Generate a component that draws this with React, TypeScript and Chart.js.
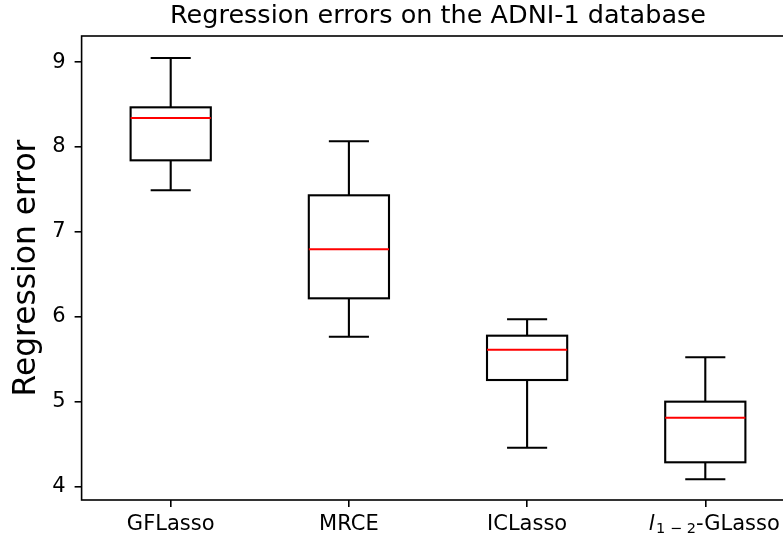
import React, { useEffect, useRef } from 'react';
import { Chart, registerables } from 'chart.js';

Chart.register(...registerables);

// ---- data ----
const categories = ['GFLasso', 'MRCE', 'ICLasso', 'l1-2-GLasso'];
const whiskerLow = [7.49, 5.766, 4.459, 4.087];
const q1 = [7.843, 6.218, 5.256, 4.287];
const median = [8.341, 6.795, 5.613, 4.812];
const q3 = [8.467, 7.431, 5.778, 5.001];
const whiskerHigh = [9.048, 8.067, 5.971, 5.524];
const yTicks = [4, 5, 6, 7, 8, 9];
const yMin = 3.843;
const yMax = 9.307;

const FONT = 'DejaVu Sans';

const boxPlugin = {
  id: 'boxPlugin',
  afterDatasetsDraw(chart: any) {
    const ctx = chart.ctx;
    const ys = chart.scales.y;
    const meta = chart.getDatasetMeta(0);
    ctx.save();
    meta.data.forEach((bar: any, i: number) => {
      const x = bar.x;
      const hw = bar.width / 2;
      const yq1 = ys.getPixelForValue(q1[i]);
      const yq3 = ys.getPixelForValue(q3[i]);
      const ylo = ys.getPixelForValue(whiskerLow[i]);
      const yhi = ys.getPixelForValue(whiskerHigh[i]);
      const ymed = ys.getPixelForValue(median[i]);
      ctx.lineWidth = 2.1;
      ctx.strokeStyle = '#000';
      ctx.lineCap = 'butt';
      ctx.strokeRect(x - hw, yq3, 2 * hw, yq1 - yq3);
      ctx.beginPath();
      ctx.moveTo(x, yq3);
      ctx.lineTo(x, yhi);
      ctx.moveTo(x, yq1);
      ctx.lineTo(x, ylo);
      ctx.moveTo(x - hw / 2, yhi);
      ctx.lineTo(x + hw / 2, yhi);
      ctx.moveTo(x - hw / 2, ylo);
      ctx.lineTo(x + hw / 2, ylo);
      ctx.stroke();
      ctx.strokeStyle = '#ff0000';
      ctx.beginPath();
      ctx.moveTo(x - hw, ymed);
      ctx.lineTo(x + hw, ymed);
      ctx.stroke();
    });
    ctx.restore();
  },
  afterDraw(chart: any) {
    const ctx = chart.ctx;
    const a = chart.chartArea;
    ctx.save();
    ctx.strokeStyle = '#000';
    ctx.lineWidth = 1.6;
    ctx.strokeRect(a.left, a.top, a.right - a.left, a.bottom - a.top);

    // rich label for the 4th category: l_{1-2}-GLasso
    const xs = chart.scales.x;
    const px = xs.getPixelForValue(3);
    const midY = xs.top + 7 + 5 + (21 * 1.2) / 2;
    ctx.fillStyle = '#000';
    ctx.font = `21px "${FONT}"`;
    ctx.textBaseline = 'middle';
    const baseY = midY + ctx.measureText('L').actualBoundingBoxDescent;
    ctx.textBaseline = 'alphabetic';
    ctx.textAlign = 'left';
    const fItal = `italic 21px "${FONT}"`;
    const fSub = `14.5px "${FONT}"`;
    const fMain = `21px "${FONT}"`;
    const pL = 'l';
    const pSub = '1 \u2212 2';
    const pRest = '-GLasso';
    ctx.font = fItal;
    const wL = ctx.measureText(pL).width;
    ctx.font = fSub;
    const wS = ctx.measureText(pSub).width;
    ctx.font = fMain;
    const wR = ctx.measureText(pRest).width;
    const gap = 1.5;
    const total = wL + gap + wS + wR;
    let cx = px - total / 2 + 9;
    ctx.font = fItal;
    ctx.fillText(pL, cx, baseY);
    cx += wL + gap;
    ctx.font = fSub;
    ctx.fillText(pSub, cx, baseY + 2.5);
    cx += wS;
    ctx.font = fMain;
    ctx.fillText(pRest, cx, baseY);
    ctx.restore();
  },
};

export default function App() {
  const ref = useRef<HTMLCanvasElement>(null);
  useEffect(() => {
    const canvas = ref.current;
    if (!canvas) return;
    const chart = new Chart(canvas, {
      type: 'bar',
      data: {
        labels: categories,
        datasets: [
          {
            label: 'Regression error',
            data: categories.map((_, i) => [q1[i], q3[i]]) as any,
            backgroundColor: 'rgba(0,0,0,0)',
            borderWidth: 0,
            barPercentage: 0.45,
            categoryPercentage: 1,
          },
        ],
      },
      options: {
        responsive: false,
        animation: false,
        devicePixelRatio: 1,
        layout: { padding: { left: 0, right: 5.6, top: 0, bottom: 0 } },
        plugins: {
          legend: { display: false },
          tooltip: { enabled: false },
          title: {
            display: true,
            text: 'Regression errors on the ADNI-1 database',
            fullSize: false,
            color: '#000',
            font: { family: FONT, size: 25.5, weight: 'normal' },
            padding: { top: 1, bottom: 4.4 },
          },
        },
        scales: {
          x: {
            type: 'category',
            offset: true,
            grid: {
              display: true,
              drawOnChartArea: false,
              drawTicks: true,
              tickLength: 7,
              offset: false,
              color: '#000',
              lineWidth: 1.6,
            },
            border: { display: false },
            ticks: {
              color: '#000',
              font: { family: FONT, size: 21 },
              padding: 5,
              maxRotation: 0,
              autoSkip: false,
              callback: (_v: any, i: number) => (i === 3 ? '' : categories[i]),
            },
            afterFit: (s: any) => {
              s.height = 41;
            },
          },
          y: {
            type: 'linear',
            min: yMin,
            max: yMax,
            afterBuildTicks: (s: any) => {
              s.ticks = yTicks.map((v) => ({ value: v }));
            },
            grid: {
              display: true,
              drawOnChartArea: false,
              drawTicks: true,
              tickLength: 7,
              color: '#000',
              lineWidth: 1.6,
            },
            border: { display: false },
            ticks: {
              color: '#000',
              font: { family: FONT, size: 21 },
              padding: 9,
              callback: (v: any) => String(v),
            },
            title: {
              display: true,
              text: 'Regression error',
              color: '#000',
              font: { family: FONT, size: 31.3 },
              padding: { top: 8.5, bottom: 0 },
            },
            afterFit: (s: any) => {
              s.width = 81.6;
            },
          },
        },
      },
      plugins: [boxPlugin],
    });
    return () => chart.destroy();
  }, []);

  return (
    <div
      style={{
        position: 'fixed',
        left: 0,
        top: 0,
        width: 783,
        height: 541,
        overflow: 'hidden',
        background: '#fff',
      }}
    >
      <canvas ref={ref} width={800} height={541} style={{ display: 'block', width: 800, height: 541 }} />
    </div>
  );
}
